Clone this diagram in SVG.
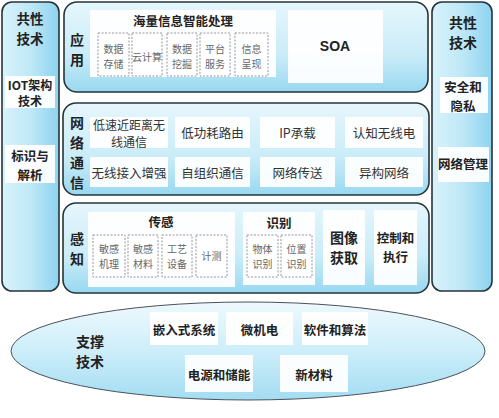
<svg xmlns="http://www.w3.org/2000/svg" width="499" height="418" viewBox="0 0 499 418">
<defs>
<linearGradient id="gBox" x1="0" y1="0" x2="0" y2="1">
<stop offset="0" stop-color="#e6f6fc"/>
<stop offset="0.6" stop-color="#c9ecf8"/>
<stop offset="1" stop-color="#98d8f0"/>
</linearGradient>
<linearGradient id="gCol" x1="0" y1="0" x2="1" y2="0">
<stop offset="0" stop-color="#d9f2fb"/>
<stop offset="0.5" stop-color="#bfe8f7"/>
<stop offset="1" stop-color="#8dd3ef"/>
</linearGradient>
<linearGradient id="gEll" x1="0" y1="0" x2="0" y2="1">
<stop offset="0" stop-color="#eef9fd"/>
<stop offset="0.5" stop-color="#cdeefa"/>
<stop offset="1" stop-color="#a3dcf2"/>
</linearGradient>
<style>
.cont{fill:url(#gBox);stroke:#26343b;stroke-width:1.6}
.col{fill:url(#gCol);stroke:#26343b;stroke-width:1.6}
.wp{fill:#ffffff;fill-opacity:0.93}
.dash{fill:#ffffff;stroke:#8a8a8a;stroke-width:0.9;stroke-dasharray:2 1.5}
text{font-family:"Noto Sans CJK SC","Liberation Sans",sans-serif;text-anchor:middle;dominant-baseline:central;fill:#222}
.h{font-size:14px;font-weight:bold}
.t{font-size:12.5px;font-weight:bold}
.n{font-size:12.5px;fill:#333}
.s{font-size:10px;fill:#666}
</style>
</defs>

<g id="left-column">
<rect class="col" x="2" y="2" width="57" height="289" rx="10"/>
<text class="h" x="30" y="18" style="font-size:13.5px">共性</text>
<text class="h" x="30" y="38" style="font-size:13.5px">技术</text>
<rect class="wp" x="5" y="76" width="50" height="32"/>
<text class="t" x="30" y="84" style="font-size:12px">IOT架构</text>
<text class="t" x="30" y="100" style="font-size:12px">技术</text>
<rect class="wp" x="5" y="145" width="50" height="38"/>
<text class="t" x="30" y="155">标识与</text>
<text class="t" x="30" y="174">解析</text>
</g>

<g id="right-column">
<rect class="col" x="432" y="2" width="60" height="289" rx="10"/>
<text class="h" x="463" y="22">共性</text>
<text class="h" x="463" y="42">技术</text>
<rect class="wp" x="440" y="77" width="48" height="36"/>
<text class="t" x="463" y="86">安全和</text>
<text class="t" x="463" y="105">隐私</text>
<rect class="wp" x="438" y="147" width="51" height="35"/>
<text class="t" x="463" y="163">网络管理</text>
</g>

<g id="application">
<rect class="cont" x="64" y="2" width="364" height="90" rx="13"/>
<text class="h" x="77" y="39">应</text>
<text class="h" x="77" y="59">用</text>
<rect class="wp" x="90" y="10" width="186" height="67"/>
<text class="t" x="183" y="20">海量信息智能处理</text>
<rect class="dash" x="98" y="33" width="31" height="43"/>
<text class="s" x="113.5" y="48">数据</text>
<text class="s" x="113.5" y="63">存储</text>
<rect class="dash" x="132" y="33" width="30" height="43"/>
<text class="s" x="147" y="56">云计算</text>
<rect class="dash" x="167" y="33" width="30" height="43"/>
<text class="s" x="182" y="48">数据</text>
<text class="s" x="182" y="63">挖掘</text>
<rect class="dash" x="200" y="33" width="30" height="43"/>
<text class="s" x="215" y="48">平台</text>
<text class="s" x="215" y="63">服务</text>
<rect class="dash" x="235" y="33" width="33" height="43"/>
<text class="s" x="251.5" y="48">信息</text>
<text class="s" x="251.5" y="63">呈现</text>
<rect class="wp" x="288" y="10" width="95" height="73"/>
<text x="335" y="46" style="font-family:'Liberation Sans',Arial,sans-serif;font-size:14px;font-weight:bold">SOA</text>
</g>

<g id="network">
<rect class="cont" x="63" y="103" width="366" height="92" rx="13"/>
<text class="h" x="77" y="122">网</text>
<text class="h" x="77" y="142">络</text>
<text class="h" x="77" y="162">通</text>
<text class="h" x="77" y="182">信</text>
<rect class="wp" x="90" y="117" width="78" height="31"/>
<text class="n" x="129" y="124" style="font-size:12px">低速近距离无</text>
<text class="n" x="129" y="141.5" style="font-size:12px">线通信</text>
<rect class="wp" x="175" y="117" width="75" height="31"/>
<text class="n" x="212.5" y="132">低功耗路由</text>
<rect class="wp" x="260" y="117" width="75" height="31"/>
<text class="n" x="297.5" y="132">IP承载</text>
<rect class="wp" x="345" y="117" width="78" height="31"/>
<text class="n" x="384" y="132">认知无线电</text>
<rect class="wp" x="90" y="157" width="78" height="30"/>
<text class="n" x="129" y="172">无线接入增强</text>
<rect class="wp" x="175" y="157" width="75" height="30"/>
<text class="n" x="212.5" y="172">自组织通信</text>
<rect class="wp" x="260" y="157" width="75" height="30"/>
<text class="n" x="297.5" y="172">网络传送</text>
<rect class="wp" x="345" y="157" width="78" height="30"/>
<text class="n" x="384" y="172">异构网络</text>
</g>

<g id="perception">
<rect class="cont" x="63" y="203" width="366" height="90" rx="13"/>
<text class="h" x="77" y="238">感</text>
<text class="h" x="77" y="258">知</text>
<rect class="wp" x="88" y="212" width="147" height="75"/>
<text class="t" x="161" y="221">传感</text>
<rect class="dash" x="93" y="235" width="32" height="42"/>
<text class="s" x="109" y="248">敏感</text>
<text class="s" x="109" y="263">机理</text>
<rect class="dash" x="128" y="235" width="30" height="42"/>
<text class="s" x="143" y="248">敏感</text>
<text class="s" x="143" y="263">材料</text>
<rect class="dash" x="162" y="235" width="30" height="42"/>
<text class="s" x="177" y="248">工艺</text>
<text class="s" x="177" y="263">设备</text>
<rect class="dash" x="196" y="235" width="31" height="42"/>
<text class="s" x="211.5" y="255">计测</text>
<rect class="wp" x="243" y="212" width="72" height="73"/>
<text class="t" x="279" y="222">识别</text>
<rect class="dash" x="247" y="235" width="31" height="42"/>
<text class="s" x="262.5" y="248">物体</text>
<text class="s" x="262.5" y="263">识别</text>
<rect class="dash" x="281" y="235" width="31" height="42"/>
<text class="s" x="296.5" y="248">位置</text>
<text class="s" x="296.5" y="263">识别</text>
<rect class="wp" x="323" y="210" width="42" height="75"/>
<text class="h" x="344" y="237">图像</text>
<text class="h" x="344" y="257">获取</text>
<rect class="wp" x="374" y="210" width="43" height="75"/>
<text class="t" x="395.5" y="237">控制和</text>
<text class="t" x="395.5" y="256">执行</text>
</g>

<g id="support">
<ellipse cx="248" cy="351" rx="237" ry="49" fill="url(#gEll)" stroke="#4a5358" stroke-width="1"/>
<text class="h" x="90" y="341">支撑</text>
<text class="h" x="90" y="361">技术</text>
<rect class="wp" x="150" y="312" width="68" height="33"/>
<text class="t" x="184" y="329">嵌入式系统</text>
<rect class="wp" x="226" y="312" width="67" height="33"/>
<text class="t" x="259.5" y="329">微机电</text>
<rect class="wp" x="302" y="312" width="66" height="33"/>
<text class="t" x="335" y="329">软件和算法</text>
<rect class="wp" x="185" y="355" width="68" height="37"/>
<text class="t" x="219" y="374">电源和储能</text>
<rect class="wp" x="280" y="355" width="68" height="37"/>
<text class="t" x="314" y="374">新材料</text>
</g>

<g id="connectors"/>
</svg>
